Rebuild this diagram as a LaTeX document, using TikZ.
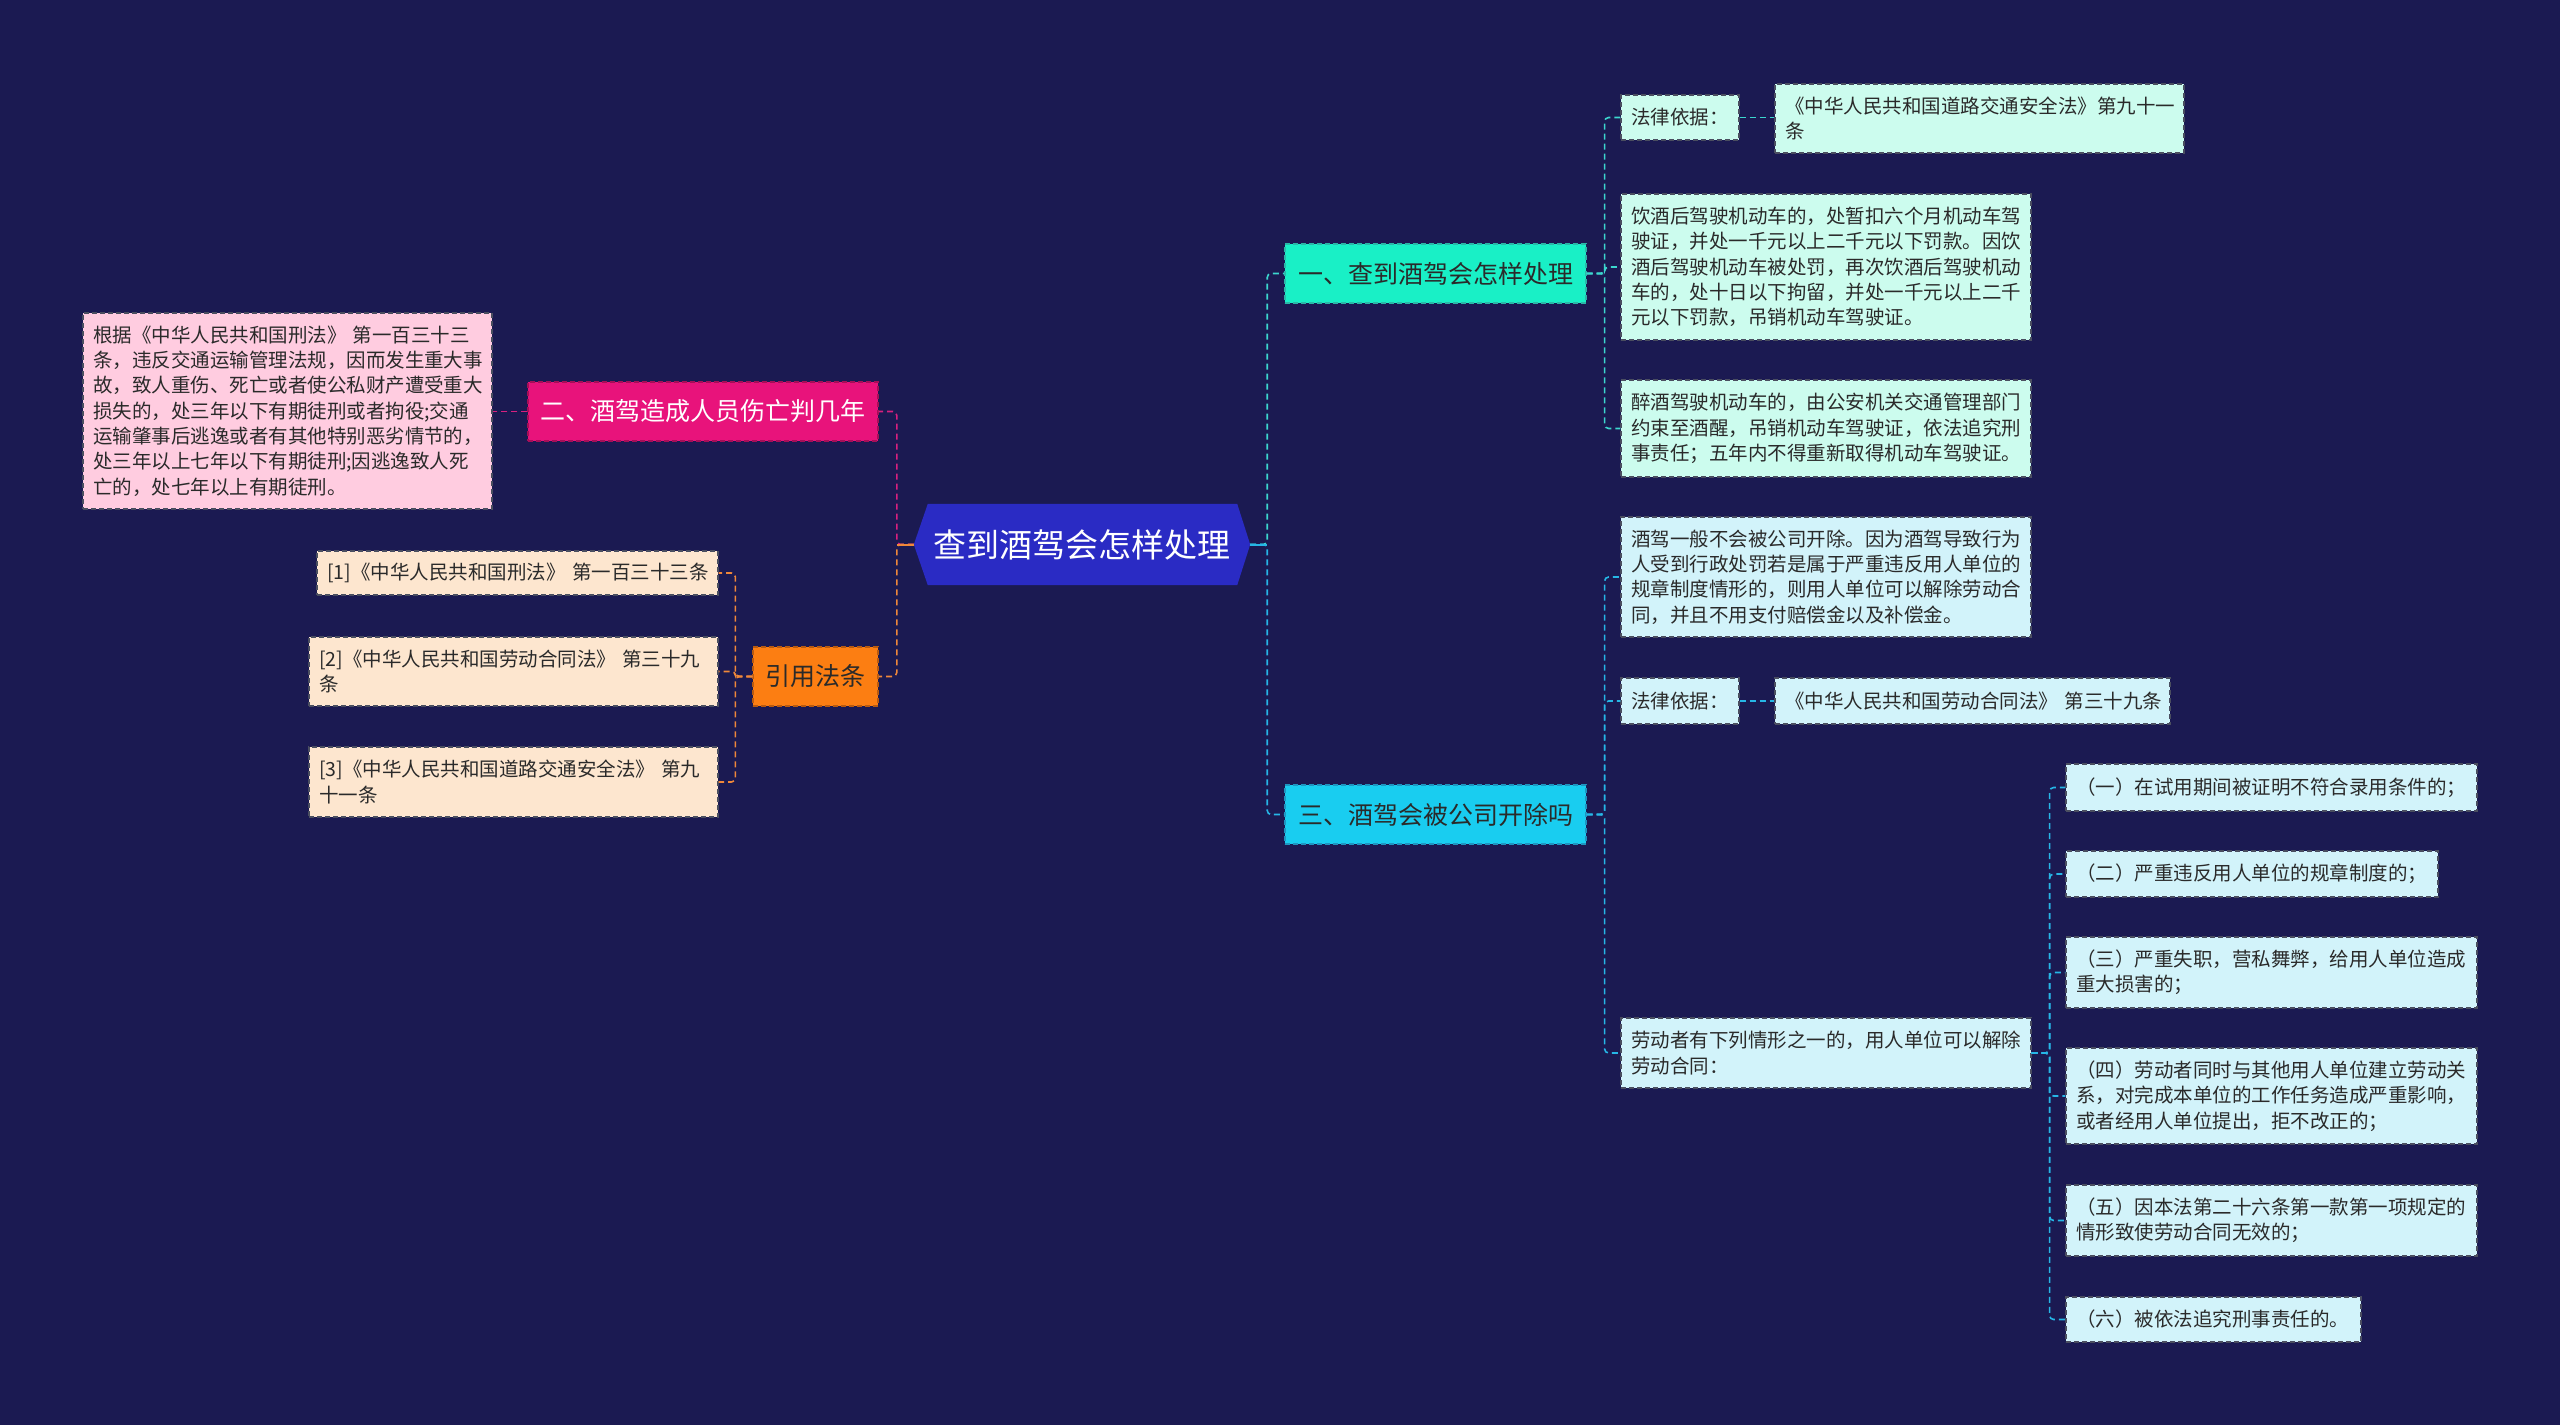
\documentclass[tikz,border=0pt]{standalone}
\usepackage{fontspec}
\setmainfont{Noto Sans CJK SC}
\usetikzlibrary{backgrounds}
\definecolor{bg}{HTML}{1B1A52}
\definecolor{rootf}{HTML}{2A2BC4}
\definecolor{onef}{HTML}{19F0C6}
\definecolor{oned}{HTML}{2AB8A8}
\definecolor{threef}{HTML}{19CDF0}
\definecolor{threed}{HTML}{1E95C0}
\definecolor{twof}{HTML}{E8137B}
\definecolor{twod}{HTML}{A50F58}
\definecolor{fourf}{HTML}{FC7E12}
\definecolor{fourd}{HTML}{B85A10}
\definecolor{pinkf}{HTML}{FFCCE0}
\definecolor{peachf}{HTML}{FDE6CF}
\definecolor{mintf}{HTML}{CCFCEE}
\definecolor{cyanf}{HTML}{D2F3FA}
\definecolor{boxd}{HTML}{4A4E60}
\definecolor{txt}{HTML}{2A2A2A}
\definecolor{conone}{HTML}{3CD6CE}
\definecolor{conthree}{HTML}{26B6E6}
\definecolor{contwo}{HTML}{D8207F}
\definecolor{confour}{HTML}{F0883A}
\tikzset{
  box/.style={draw=boxd, dash pattern=on 5pt off 3pt, line width=1.2pt,
    inner xsep=10pt, inner ysep=0pt, align=left, text=txt,
    font=\fontsize{19.5}{25.3}\selectfont},
  pinkbox/.style={box, fill=pinkf},
  peachbox/.style={box, fill=peachf},
  mintbox/.style={box, fill=mintf},
  cyanbox/.style={box, fill=cyanf},
  branch/.style={dash pattern=on 5pt off 3pt, line width=1.2pt, inner sep=0pt,
    align=center, minimum height=59pt, font=\fontsize{25}{30}\selectfont},
  conn/.style={line width=1.6pt, dash pattern=on 6pt off 4pt, rounded corners=4pt},
  stub/.style={line width=2pt, solid},
}
\begin{document}
\begin{tikzpicture}[x=1pt,y=-1pt]
\begin{pgfonlayer}{background}
\fill[bg] (0,0) rectangle (2560,1425);
\end{pgfonlayer}
\useasboundingbox (0,0) rectangle (2560,1425);

% root
\node[minimum width=336pt, minimum height=81pt, inner sep=0pt, text=white,
  font=\fontsize{33}{38}\selectfont] (root) at (1082,544.5) {查到酒驾会怎样处理};
\begin{pgfonlayer}{background}
\fill[rootf] ([xshift=14pt]root.north west) -- ([xshift=-13pt]root.north east) -- (root.east)
  -- ([xshift=-13pt]root.south east) -- ([xshift=14pt]root.south west) -- (root.west) -- cycle;
\end{pgfonlayer}

% left branches
\node[branch, draw=twod, fill=twof, text=white, minimum width=350pt] (b2) at (703,411.5) {二、酒驾造成人员伤亡判几年};
\node[branch, draw=fourd, fill=fourf, text=txt, minimum width=125pt] (b4) at (815.5,676.5) {引用法条};

\node[pinkbox, text width=389pt, minimum height=196pt] (c2) at (287.5,411) {根据《中华人民共和国刑法》~第一百三十三\\条，违反交通运输管理法规，因而发生重大事\\故，致人重伤、死亡或者使公私财产遭受重大\\损失的，处三年以下有期徒刑或者拘役;交通\\运输肇事后逃逸或者有其他特别恶劣情节的，\\处三年以上七年以下有期徒刑;因逃逸致人死\\亡的，处七年以上有期徒刑。};

\node[peachbox, text width=381pt, minimum height=44pt] (r1) at (517.5,573) {[1]《中华人民共和国刑法》~第一百三十三条};
\node[peachbox, text width=389pt, minimum height=69pt] (r2) at (513.5,671.5) {[2]《中华人民共和国劳动合同法》~第三十九\\条};
\node[peachbox, text width=389pt, minimum height=70pt] (r3) at (513.5,782) {[3]《中华人民共和国道路交通安全法》~第九\\十一条};

% right branches
\node[branch, draw=oned, fill=onef, text=txt, minimum width=301pt] (b1) at (1435.5,273.5) {一、查到酒驾会怎样处理};
\node[branch, draw=threed, fill=threef, text=txt, minimum width=301pt] (b3) at (1435.5,814.5) {三、酒驾会被公司开除吗};

\node[mintbox, text width=98pt, minimum height=45pt] (a1) at (1680,117.5) {法律依据：};
\node[mintbox, text width=389pt, minimum height=69pt] (a1c) at (1979.5,118.5) {《中华人民共和国道路交通安全法》第九十一\\条};
\node[mintbox, text width=390pt, minimum height=146pt] (a2) at (1826,267) {饮酒后驾驶机动车的，处暂扣六个月机动车驾\\驶证，并处一千元以上二千元以下罚款。因饮\\酒后驾驶机动车被处罚，再次饮酒后驾驶机动\\车的，处十日以下拘留，并处一千元以上二千\\元以下罚款，吊销机动车驾驶证。};
\node[mintbox, text width=390pt, minimum height=97pt] (a3) at (1826,428.5) {醉酒驾驶机动车的，由公安机关交通管理部门\\约束至酒醒，吊销机动车驾驶证，依法追究刑\\事责任；五年内不得重新取得机动车驾驶证。};

\node[cyanbox, text width=390pt, minimum height=120pt] (d1) at (1826,577) {酒驾一般不会被公司开除。因为酒驾导致行为\\人受到行政处罚若是属于严重违反用人单位的\\规章制度情形的，则用人单位可以解除劳动合\\同，并且不用支付赔偿金以及补偿金。};
\node[cyanbox, text width=98pt, minimum height=46pt] (d2) at (1680,701) {法律依据：};
\node[cyanbox, text width=375pt, minimum height=46pt] (d2c) at (1972.5,701) {《中华人民共和国劳动合同法》~第三十九条};
\node[cyanbox, text width=390pt, minimum height=70pt] (d3) at (1826,1053) {劳动者有下列情形之一的，用人单位可以解除\\劳动合同：};

\node[cyanbox, text width=391pt, minimum height=47pt] (e1) at (2271.5,787.5) {（一）在试用期间被证明不符合录用条件的；};
\node[cyanbox, text width=352pt, minimum height=46pt] (e2) at (2252,874) {（二）严重违反用人单位的规章制度的；};
\node[cyanbox, text width=391pt, minimum height=71pt] (e3) at (2271.5,972.5) {（三）严重失职，营私舞弊，给用人单位造成\\重大损害的；};
\node[cyanbox, text width=391pt, minimum height=96pt] (e4) at (2271.5,1096) {（四）劳动者同时与其他用人单位建立劳动关\\系，对完成本单位的工作任务造成严重影响，\\或者经用人单位提出，拒不改正的；};
\node[cyanbox, text width=391pt, minimum height=71pt] (e5) at (2271.5,1220.5) {（五）因本法第二十六条第一款第一项规定的\\情形致使劳动合同无效的；};
\node[cyanbox, text width=275pt, minimum height=45pt] (e6) at (2213.5,1319.5) {（六）被依法追究刑事责任的。};

% connectors left
\draw[conn, contwo] (root.west) -- ++(-17,0) |- (b2.east);
\draw[conn, confour] (root.west) -- ++(-17,0) |- (b4.east);
\draw[stub, confour] (root.west) -- ++(-17,0);
\draw[conn, contwo] (b2.west) -- (b2.west -| c2.east);
\draw[conn, confour] (b4.west) -- ++(-17,0) |- (r1.east);
\draw[conn, confour] (b4.west) -- ++(-17,0) |- (r2.east);
\draw[conn, confour] (b4.west) -- ++(-17,0) |- (r3.east);

% connectors right
\draw[conn, conone] (root.east) -- ++(17,0) |- (b1.west);
\draw[conn, conthree] (root.east) -- ++(17,0) |- (b3.west);
\draw[stub, conthree] (root.east) -- ++(17,0);
\draw[conn, conone] (b1.east) -- ++(18,0) |- (a1.west);
\draw[conn, conone] (b1.east) -- ++(18,0) |- (a2.west);
\draw[conn, conone] (b1.east) -- ++(18,0) |- (a3.west);
\draw[conn, conone] (a1.east) -- (a1.east -| a1c.west);
\draw[conn, conthree] (b3.east) -- ++(18,0) |- (d1.west);
\draw[conn, conthree] (b3.east) -- ++(18,0) |- (d2.west);
\draw[conn, conthree] (b3.east) -- ++(18,0) |- (d3.west);
\draw[conn, conthree] (d2.east) -- (d2c.west);
\foreach \e in {e1,e2,e3,e4,e5,e6}
  \draw[conn, conthree] (d3.east) -- ++(18,0) |- (\e.west);
\end{tikzpicture}
\end{document}
